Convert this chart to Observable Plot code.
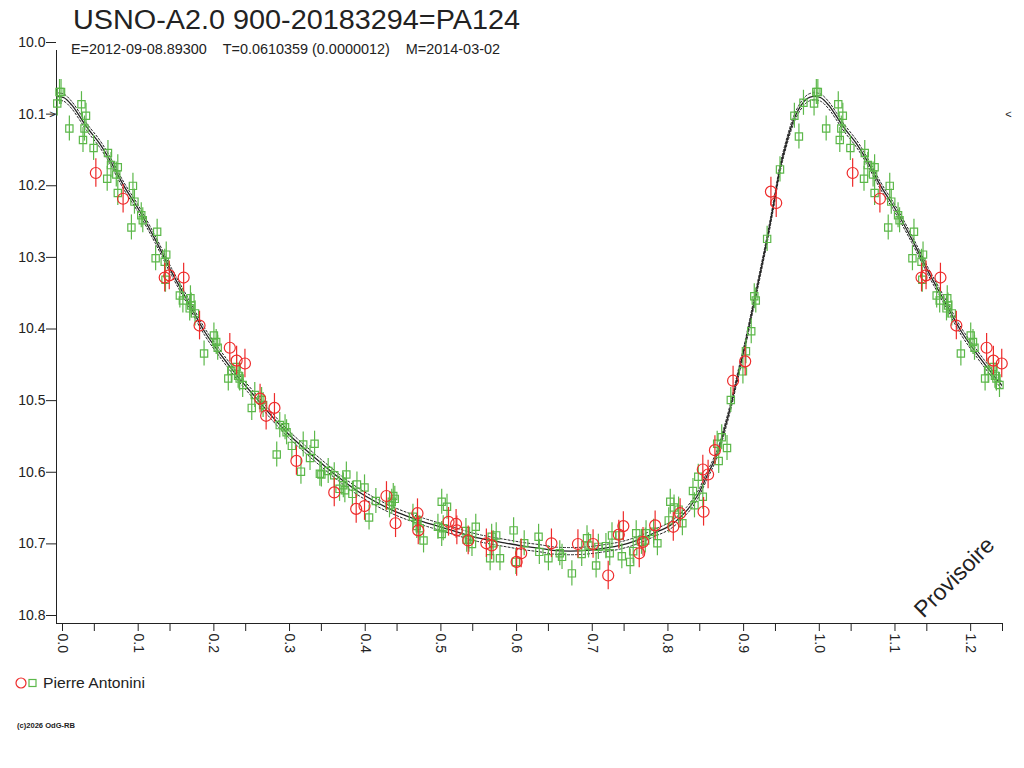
<!DOCTYPE html>
<html>
<head>
<meta charset="utf-8">
<script src="https://cdn.jsdelivr.net/npm/d3@7"></script>
<script src="https://cdn.jsdelivr.net/npm/@observablehq/plot@0.6"></script>
<style>
  html, body { margin: 0; padding: 0; background: #fff; }
  #chart { position: relative; width: 1024px; height: 768px; }
  svg { font-family: "Liberation Sans", Arial, sans-serif; }
</style>
</head>
<body>
<div id="chart"></div>
<script>
// ---- Texts ----
const titleText = "USNO-A2.0 900-20183294=PA124";
const subtitleText = "E=2012-09-08.89300    T=0.0610359 (0.0000012)    M=2014-03-02";
const legendText = "Pierre Antonini";
const creditText = "(c)2026 OdG-RB";
const stampText = "Provisoire";

// ---- Axes ----
const xDomain = [0, 1.25];
const yDomain = [10.0, 10.8];
const xMajorTicks = [0, 0.1, 0.2, 0.3, 0.4, 0.5, 0.6, 0.7, 0.8, 0.9, 1.0, 1.1, 1.2];
const xMinorTicks = [0.05, 0.15, 0.25, 0.35, 0.45, 0.55, 0.65, 0.75, 0.85, 0.95, 1.05, 1.15, 1.25];
const yTicks = [10.0, 10.1, 10.2, 10.3, 10.4, 10.5, 10.6, 10.7, 10.8];
const maxMag = 10.089;        // level marked by ">" and "<"
const repeatUpTo = 0.25;      // phases repeated after 1.0

// ---- Series 1 : green squares (phase, magnitude) ----
const greenPhase = [
  0.004,0.006,0.001,0.017,0.033,0.039,0.037,0.035,0.049,0.068,0.072,0.081,0.067,0.079,0.081,0.101,0.103,0.099,0.112,0.114,
  0.133,0.131,0.145,0.143,0.144,0.163,0.167,0.177,0.178,0.176,0.183,0.195,0.208,0.211,0.213,0.227,0.231,0.238,0.240,0.242,
  0.246,0.258,0.262,0.271,0.273,0.295,0.302,0.304,0.291,0.311,0.326,0.323,0.335,0.341,
  0.348,0.350,0.359,0.367,0.383,0.379,0.381,0.374,0.391,0.397,0.407,0.422,0.413,0.445,0.447,0.443,0.440,0.471,0.477,0.476,
  0.480,0.485,0.509,0.516,0.504,0.511,0.509,0.554,0.541,0.542,0.549,0.545,0.575,0.581,0.577,0.573,0.586,0.604,0.618,0.607,
  0.637,0.638,
  0.650,0.665,0.668,0.681,0.694,0.701,0.703,0.713,0.716,0.726,0.731,0.734,0.744,0.747,0.758,0.762,0.766,0.773,0.779,0.778,
  0.789,0.794,0.809,0.811,0.816,0.822,0.827,0.841,0.843,0.848,0.854,0.875,0.873,0.879,0.886,0.891,
  0.907,0.911,0.918,0.922,0.924,0.939,0.956,0.975,0.981,0.987
];
const greenMag = [
  10.058,10.058,10.074,10.109,10.075,10.091,10.109,10.125,10.136,10.143,10.160,10.163,10.179,10.173,10.199,10.189,10.211,10.247,10.230,10.237,
  10.253,10.290,10.285,10.295,10.320,10.342,10.349,10.346,10.356,10.360,10.367,10.423,10.398,10.407,10.415,10.458,10.447,10.442,10.454,10.458,
  10.467,10.499,10.481,10.488,10.495,10.523,10.526,10.533,10.564,10.552,10.550,10.588,10.569,10.549,
  10.591,10.592,10.587,10.593,10.592,10.607,10.614,10.612,10.619,10.606,10.610,10.629,10.652,10.622,10.626,10.630,10.635,10.651,10.656,10.664,
  10.667,10.684,10.630,10.637,10.665,10.667,10.675,10.665,10.671,10.683,10.689,10.683,10.679,10.677,10.688,10.709,10.709,10.670,10.688,10.714,
  10.679,10.700,
  10.709,10.702,10.707,10.730,10.703,10.681,10.691,10.719,10.693,10.692,10.702,10.677,10.677,10.706,10.714,10.699,10.674,10.686,10.674,10.684,
  10.672,10.688,10.656,10.630,10.638,10.641,10.660,10.615,10.635,10.595,10.623,10.573,10.549,10.540,10.555,10.488,
  10.448,10.420,10.392,10.343,10.349,10.263,10.166,10.091,10.120,10.073
];
const greenErr = 0.0175;

// ---- Series 2 : red circles (phase, magnitude) ----
const redPhase = [
  0.052,0.088,0.143,0.149,0.168,0.189,0.229,0.238,0.249,0.269,0.277,0.288,0.317,
  0.367,0.396,0.407,0.436,0.448,0.477,0.478,0.518,0.528,0.529,0.544,0.568,0.575,0.614,0.608,
  0.654,0.689,0.709,0.729,0.743,0.749,0.770,0.775,0.791,0.815,0.824,0.854,0.861,0.855,0.870,
  0.894,0.910,0.944,0.951
];
const redMag = [
  10.171,10.207,10.317,10.314,10.317,10.384,10.415,10.433,10.437,10.486,10.510,10.499,10.573,
  10.617,10.640,10.636,10.622,10.660,10.646,10.670,10.658,10.661,10.670,10.684,10.688,10.691,10.702,10.714,
  10.688,10.689,10.689,10.733,10.676,10.664,10.702,10.686,10.663,10.665,10.646,10.585,10.592,10.644,10.558,
  10.461,10.434,10.197,10.213
];
const redErr = 0.02;

// ---- Fitted light curve and its band ----
const fitPhase = [0,0.010,0.020,0.030,0.040,0.057,0.070,0.089,0.108,0.130,0.152,0.174,0.196,0.218,0.240,0.262,0.284,0.306,0.330,0.352,
  0.374,0.396,0.418,0.440,0.463,0.485,0.507,0.529,0.551,0.573,0.595,0.617,0.639,0.656,0.679,0.701,0.723,0.745,0.767,0.789,
  0.811,0.833,0.846,0.859,0.873,0.881,0.890,0.900,0.910,0.920,0.930,0.940,0.948,0.956,0.965,0.974,0.983,0.992];
const fitMag = [10.064,10.066,10.076,10.091,10.107,10.130,10.152,10.189,10.221,10.263,10.309,10.351,10.393,10.426,10.456,10.483,10.510,10.535,10.558,10.578,
  10.597,10.614,10.628,10.640,10.650,10.658,10.665,10.672,10.679,10.684,10.688,10.692,10.695,10.698,10.699,10.698,10.695,10.691,10.684,10.674,
  10.663,10.642,10.623,10.595,10.563,10.535,10.500,10.455,10.410,10.360,10.310,10.258,10.212,10.165,10.127,10.097,10.078,10.067];
const bandHalf = 0.005;

// ---- Colours ----
const greenColor = "#5cb84a";
const redColor = "#ee2b2b";
const inkColor = "#222222";

// phase-folded tables: each observation is shown again one cycle later when it falls in the window
function fold(phases, mags, extra) {
  const rows = phases.map((p, i) => ({phase: p, mag: mags[i]}));
  const rep = rows.filter(d => d.phase <= extra).map(d => ({phase: d.phase + 1, mag: d.mag}));
  return rows.concat(rep);
}
const green = fold(greenPhase, greenMag, repeatUpTo);
const red = fold(redPhase, redMag, repeatUpTo);
const fit = fold(fitPhase, fitMag, repeatUpTo + 0.02).sort((a, b) => a.phase - b.phase);

const W = 1024, H = 768;
const plot = Plot.plot({
  width: W,
  height: H,
  marginLeft: 56,
  marginRight: 22,
  marginTop: 50,
  marginBottom: 145,
  style: {fontFamily: '"Liberation Sans", Arial, sans-serif', fontSize: "14px", color: inkColor, background: "#fff"},
  x: {domain: xDomain, label: null},
  y: {domain: yDomain, reverse: true, label: null},
  marks: [
    Plot.ruleX([0], {y1: yDomain[0], y2: yDomain[1], stroke: inkColor}),
    Plot.ruleY([yDomain[1]], {x1: xDomain[0], x2: xDomain[1], stroke: inkColor}),
    Plot.axisY({ticks: yTicks, tickSize: 10, tickPadding: 1, dy: -8, tickFormat: d => d.toFixed(1), fontSize: 14, stroke: inkColor, fill: inkColor}),
    Plot.axisX({ticks: xMinorTicks, tickSize: 8, tickFormat: () => "", stroke: inkColor}),
    Plot.axisX({ticks: xMajorTicks, tickSize: 8, tickPadding: 2, tickRotate: 90, dx: 6, tickFormat: d => d.toFixed(1), fontSize: 14, stroke: inkColor, fill: inkColor}),
    Plot.line(fit, {x: "phase", y: d => d.mag - bandHalf, stroke: inkColor, strokeWidth: 1, strokeDasharray: "2,2", curve: "catmull-rom", clip: true}),
    Plot.line(fit, {x: "phase", y: d => d.mag + bandHalf, stroke: inkColor, strokeWidth: 1, strokeDasharray: "2,2", curve: "catmull-rom", clip: true}),
    Plot.line(fit, {x: "phase", y: "mag", stroke: inkColor, strokeWidth: 1.3, curve: "catmull-rom", clip: true}),
    Plot.ruleX(green, {x: "phase", y1: d => d.mag - greenErr, y2: d => d.mag + greenErr, stroke: greenColor, strokeWidth: 1.2}),
    Plot.dot(green, {x: "phase", y: "mag", symbol: "square", r: 4.1, stroke: greenColor, strokeWidth: 1.2, fill: "none"}),
    Plot.ruleX(red, {x: "phase", y1: d => d.mag - redErr, y2: d => d.mag + redErr, stroke: redColor, strokeWidth: 1.2}),
    Plot.dot(red, {x: "phase", y: "mag", symbol: "circle", r: 5.5, stroke: redColor, strokeWidth: 1.2, fill: "none"}),
    Plot.text([maxMag], {x: xDomain[0], y: d => d, text: () => ">", dx: -4, fontSize: 11, fill: inkColor}),
    Plot.text([maxMag], {x: xDomain[1], y: d => d, text: () => "<", dx: 6, fontSize: 11, fill: inkColor}),
    Plot.text([stampText], {x: xDomain[1], y: yDomain[1], text: d => d, dx: -48, dy: -46, rotate: -45, fontSize: 23, fill: inkColor})
  ]
});
document.getElementById("chart").appendChild(plot);

const svg = d3.select(plot);
const g = svg.append("g").attr("text-anchor", "start").attr("font-family", '"Liberation Sans", Arial, sans-serif');
g.append("text").attr("x", 73).attr("y", 29).attr("font-size", 27).attr("fill", inkColor)
  .attr("textLength", 447).attr("lengthAdjust", "spacingAndGlyphs").text(titleText);
g.append("text").attr("x", 71).attr("y", 54).attr("font-size", 14).attr("fill", inkColor)
  .attr("xml:space", "preserve").style("white-space", "pre")
  .attr("textLength", 429).attr("lengthAdjust", "spacingAndGlyphs").text(subtitleText);
// legend
g.append("circle").attr("cx", 21).attr("cy", 683).attr("r", 5).attr("fill", "none").attr("stroke", redColor).attr("stroke-width", 1.2);
g.append("rect").attr("x", 29).attr("y", 679.5).attr("width", 7).attr("height", 7).attr("fill", "none").attr("stroke", greenColor).attr("stroke-width", 1.2);
g.append("text").attr("x", 43).attr("y", 688).attr("font-size", 14).attr("fill", inkColor)
  .attr("textLength", 102).attr("lengthAdjust", "spacingAndGlyphs").text(legendText);
g.append("text").attr("x", 17).attr("y", 728).attr("font-size", 7).attr("font-weight", "bold").attr("fill", inkColor)
  .attr("textLength", 58).attr("lengthAdjust", "spacingAndGlyphs").text(creditText);
</script>
</body>
</html>
